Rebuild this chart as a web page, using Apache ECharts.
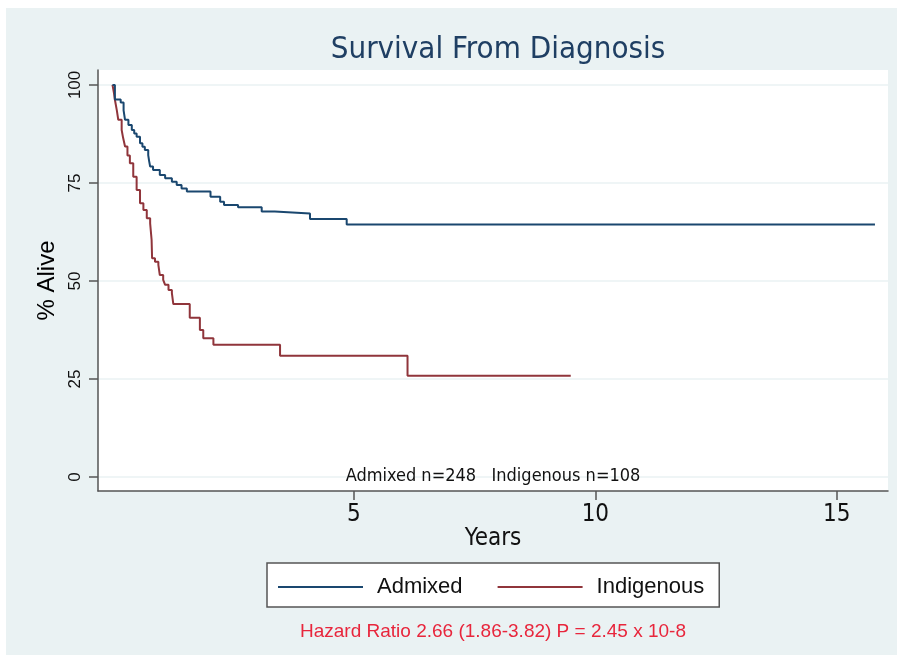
<!DOCTYPE html>
<html><head><meta charset="utf-8">
<script src="https://cdn.jsdelivr.net/npm/echarts@6/dist/echarts.min.js"></script>
<style>html,body{margin:0;padding:0;background:#fff}#c{width:900px;height:661px}</style>
</head><body><div id="c"></div>
<script>
// Kaplan-Meier estimates: [years, % alive]
const admixed = [
  [0,100],[0.05,96.3],[0.17,95.5],[0.23,93.5],[0.26,91.1],[0.33,89.8],[0.40,88.5],[0.45,87.6],
  [0.50,86.8],[0.57,85.1],[0.62,84.2],[0.67,83.4],[0.74,82.1],[0.76,80.5],[0.78,79.2],[0.84,78.3],
  [0.98,77.0],[1.09,76.2],[1.23,75.3],[1.33,74.5],[1.43,73.6],[1.54,72.8],[2.03,71.5],[2.23,70.2],
  [2.31,69.4],[2.60,68.8],[3.09,67.7],[3.36,67.2],[4.09,65.8],[4.85,64.4],[15.79,64.4]
];
const indigenous = [
  [0,100],[0.03,98.0],[0.05,96.2],[0.09,93.5],[0.12,91.1],[0.19,88.5],[0.22,86.5],[0.26,84.3],
  [0.31,82.0],[0.36,80.0],[0.43,76.6],[0.50,73.2],[0.57,69.8],[0.64,68.1],[0.71,66.0],[0.78,64.7],
  [0.81,60.5],[0.82,55.8],[0.88,54.9],[0.95,54.1],[0.98,51.5],[1.05,50.3],[1.09,49.0],[1.16,47.7],
  [1.23,46.9],[1.26,44.1],[1.60,40.6],[1.81,37.5],[1.88,35.4],[2.09,33.7],[3.47,30.9],[6.11,25.8],[9.49,25.8]
];
const seriesNames = ['Admixed','Indigenous'];
const xTicks = [5,10,15];
const yTicks = [0,25,50,75,100];
const titleText = 'Survival From Diagnosis';
const countText = 'Admixed n=248   Indigenous n=108';
const hazardText = 'Hazard Ratio 2.66 (1.86-3.82) P = 2.45 x 10-8';

const narrow = "'Liberation Sans Narrow','Arial Narrow','DejaVu Sans Condensed',sans-serif";
const regular = "'Liberation Sans',Arial,Helvetica,sans-serif";
const chart = echarts.init(document.getElementById('c'), null, {renderer:'canvas'});
chart.setOption({
  animation:false,
  backgroundColor:'#ffffff',
  graphic:[
    {type:'rect', z:-10, shape:{x:6,y:8,width:891,height:647}, style:{fill:'#eaf2f3'}},
    {type:'text', x:493, y:632, z:10, style:{text:hazardText, fill:'#e8263c', font:'19px '+regular, align:'center', verticalAlign:'middle'}},
    {type:'text', x:493, y:476, z:10, style:{text:countText, fill:'#111', font:'18px '+narrow, align:'center', verticalAlign:'middle'}}
  ],
  title:{
    text:titleText, left:493, textAlign:'center', top:29,
    textStyle:{fontFamily:narrow, fontSize:31, fontWeight:'normal', color:'#1f3f63'}
  },
  grid:{left:98, right:12, top:70, bottom:170, show:true, backgroundColor:'#ffffff', borderWidth:0, containLabel:false},
  legend:{
    data:seriesNames, left:267, top:563, orient:'horizontal',
    backgroundColor:'#ffffff', borderColor:'#555555', borderWidth:1.5, borderRadius:0,
    padding:[13,15,9,11], itemGap:35, itemWidth:85, itemHeight:2, icon:'rect',
    textStyle:{fontFamily:regular, fontSize:22, color:'#111', padding:[0,0,0,9]}
  },
  xAxis:{
    type:'value', min:-0.30, max:16.06,
    name:'Years', nameLocation:'middle', nameGap:36, nameMoveOverlap:false,
    nameTextStyle:{fontFamily:narrow, fontSize:24, color:'#111'},
    axisLine:{show:true, onZero:false, lineStyle:{color:'#555', width:1.5}},
    axisTick:{show:true, length:9, customValues:xTicks, lineStyle:{color:'#555', width:1.5}},
    axisLabel:{customValues:xTicks, margin:12, fontFamily:narrow, fontSize:24, color:'#111'},
    splitLine:{show:false}
  },
  yAxis:{
    type:'value', min:-3.57, max:103.8,
    name:'% Alive', nameLocation:'middle', nameGap:39, nameRotate:90, nameMoveOverlap:false,
    nameTextStyle:{fontFamily:regular, fontSize:24, color:'#000'},
    axisLine:{show:true, onZero:false, lineStyle:{color:'#555', width:1.5}},
    axisTick:{show:true, length:9, customValues:yTicks, lineStyle:{color:'#555', width:1.5}},
    axisLabel:{customValues:yTicks, rotate:90, margin:14, fontFamily:regular, fontSize:17, color:'#111'},
    splitLine:{show:true, lineStyle:{color:'#eaf2f3', width:1.5}}
  },
  series:[
    {name:seriesNames[0], type:'line', step:'end', data:admixed, symbol:'none', color:'#1a476f', lineStyle:{width:2, color:'#1a476f'}, z:3},
    {name:seriesNames[1], type:'line', step:'end', data:indigenous, symbol:'none', color:'#90353b', lineStyle:{width:2, color:'#90353b'}, z:2}
  ]
});
</script></body></html>
